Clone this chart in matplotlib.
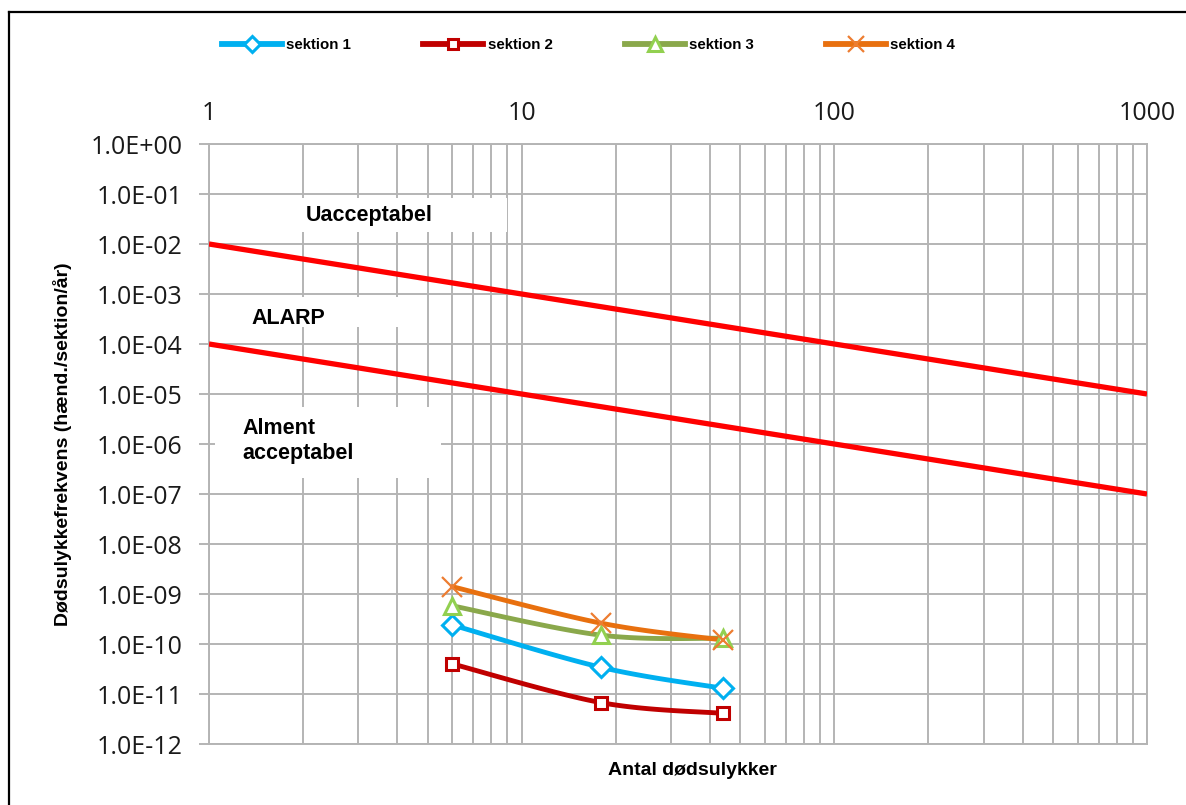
import numpy as np
import matplotlib
matplotlib.use("Agg")
import matplotlib.pyplot as plt
from matplotlib.lines import Line2D
from matplotlib.patches import Rectangle
from matplotlib.ticker import FuncFormatter, LogLocator, NullFormatter

# Number of fatalities per scenario
fatalities = [6, 18, 44]

# Fatal accident frequency per section (events/section/year)
sektion_1 = [2.4e-10, 3.4e-11, 1.3e-11]
sektion_2 = [4.0e-11, 6.7e-12, 4.1e-12]
sektion_3 = [5.8e-10, 1.5e-10, 1.3e-10]
sektion_4 = [1.4e-9, 2.6e-10, 1.2e-10]
series_names = ["sektion 1", "sektion 2", "sektion 3", "sektion 4"]

# Risk acceptance criteria (F-N lines)
criteria_n = [1, 1000]
upper_limit = [1e-2, 1e-5]
lower_limit = [1e-4, 1e-7]

x_ticks = [1, 10, 100, 1000]
y_ticks = [10.0 ** e for e in range(0, -13, -1)]

W, H = 1186, 805
fig = plt.figure(figsize=(W / 100, H / 100), dpi=100)
L, R, T, B = 209, 1147, 144, 744
ax = fig.add_axes([L / W, 1 - B / H, (R - L) / W, (B - T) / H])


def px_x(px):
    return (px - L) / (R - L)


def px_y(py):
    return (B - py) / (B - T)


ax.set_xscale("log")
ax.set_yscale("log")
ax.set_xlim(1, 1000)
ax.set_ylim(1e-12, 1)

grid_c = "#b4b4b4"
ax.set_axisbelow(True)
ax.xaxis.set_minor_locator(LogLocator(base=10, subs=np.arange(2, 10), numticks=20))
ax.xaxis.set_minor_formatter(NullFormatter())
ax.set_xticks(x_ticks)
ax.set_yticks(y_ticks)
ax.yaxis.set_minor_locator(plt.NullLocator())
ax.grid(True, which="major", color=grid_c, lw=1.4)
ax.grid(True, which="minor", axis="x", color=grid_c, lw=1.4)

tick_font = dict(family="Open Sans", size=18)
ax.xaxis.tick_top()
ax.xaxis.set_major_formatter(FuncFormatter(lambda v, p: f"{v:g}"))
ax.yaxis.set_major_formatter(FuncFormatter(lambda v, p: f"{v:.1E}"))
ax.tick_params(axis="x", which="both", length=0, pad=13, labelcolor="#1a1a1a")
ax.tick_params(axis="y", which="major", length=7, width=1.4, color=grid_c,
               pad=12, labelcolor="#1a1a1a")
for lab in ax.get_xticklabels() + ax.get_yticklabels():
    lab.set_fontfamily(tick_font["family"])
    lab.set_fontsize(tick_font["size"])
for s in ax.spines.values():
    s.set_color(grid_c)
    s.set_linewidth(1.4)

# Criteria lines
line_kw = dict(color="#ff0000", lw=3.8, solid_capstyle="butt", zorder=3)
ax.plot(criteria_n, upper_limit, **line_kw)
ax.plot(criteria_n, lower_limit, **line_kw)

# Region labels on white boxes
lab_font = dict(family="Liberation Sans", weight="bold", size=15.5, color="black")
boxes = [
    (228, 198, 507, 232),
    (228, 297, 398, 327),
    (215, 407, 441, 478),
]
for x0, y0, x1, y1 in boxes:
    ax.add_patch(Rectangle((px_x(x0), px_y(y1)), px_x(x1) - px_x(x0), px_y(y0) - px_y(y1),
                           transform=ax.transAxes, facecolor="white", edgecolor="none",
                           zorder=1))
ax.text(px_x(306), px_y(215), "Uacceptabel", transform=ax.transAxes, va="center",
        ha="left", zorder=2, **lab_font)
ax.text(px_x(251), px_y(318), "ALARP", transform=ax.transAxes, va="center",
        ha="left", zorder=2, **lab_font)
ax.text(px_x(242), px_y(441), "Alment\nacceptabel", transform=ax.transAxes, va="center",
        ha="left", zorder=2, linespacing=1.25, **lab_font)


def smooth(xs, ys, n=40):
    """Catmull-Rom curve through the points, computed in log space."""
    lx, ly = np.log10(xs), np.log10(ys)
    px = np.concatenate([[lx[0]], lx, [lx[-1]]])
    py = np.concatenate([[ly[0]], ly, [ly[-1]]])
    out_x, out_y = [], []
    t = np.linspace(0, 1, n)
    for i in range(1, len(px) - 2):
        p0, p1, p2, p3 = [np.array([px[j], py[j]]) for j in (i - 1, i, i + 1, i + 2)]
        c1 = p1 + (p2 - p0) / 6
        c2 = p2 - (p3 - p1) / 6
        pts = ((1 - t) ** 3)[:, None] * p1 + (3 * (1 - t) ** 2 * t)[:, None] * c1 \
            + (3 * (1 - t) * t ** 2)[:, None] * c2 + (t ** 3)[:, None] * p2
        out_x.extend(pts[:, 0])
        out_y.extend(pts[:, 1])
    return 10 ** np.array(out_x), 10 ** np.array(out_y)


styles = [
    dict(color="#00b0f0", marker="D", ms=10, mec="#00b0f0", mfc="white", mew=2.2),
    dict(color="#c00000", marker="s", ms=8.5, mec="#c00000", mfc="white", mew=2.2),
    dict(color="#8aa84b", marker="^", ms=12, mec="#92d050", mfc="white", mew=2.2),
    dict(color="#e8700f", marker="x", ms=14, mec="#ed7d31", mfc="none", mew=1.6),
]
all_series = [sektion_1, sektion_2, sektion_3, sektion_4]
handles = []
for name, vals, st in zip(series_names, all_series, styles):
    sx, sy = smooth(fatalities, vals)
    ax.plot(sx, sy, color=st["color"], lw=3.5, zorder=4, solid_capstyle="round")
    ax.plot(fatalities, vals, ls="none", marker=st["marker"], ms=st["ms"],
            mec=st["mec"], mfc=st["mfc"], mew=st["mew"], zorder=5)
    handles.append(Line2D([], [], color=st["color"], lw=4.2, marker=st["marker"],
                          ms=st["ms"] * 0.8, mec=st["mec"], mfc=st["mfc"],
                          mew=st["mew"], label=name))

fig.legend(handles=handles, loc="center left", bbox_to_anchor=(222 / W, 1 - 45 / H),
           ncol=4, frameon=False, borderpad=0, borderaxespad=0, numpoints=1,
           handlelength=4.0, handletextpad=0.3, columnspacing=4.8,
           prop=dict(family="Liberation Sans", weight="bold", size=10.8))

ax.set_xlabel("Antal dødsulykker", family="Liberation Sans", weight="bold", size=14)
ax.xaxis.set_label_position("bottom")
ax.xaxis.set_label_coords(px_x(692), px_y(762))
ax.set_ylabel("Dødsulykkefrekvens (hænd./sektion/år)", family="Liberation Sans",
              weight="bold", size=14)
ax.yaxis.set_label_coords(px_x(72), 0.5)

# Outer frame (top and left edges)
fig.add_artist(Line2D([9 / W, 1], [1 - 12 / H, 1 - 12 / H], transform=fig.transFigure,
                      color="black", lw=1.6))
fig.add_artist(Line2D([9 / W, 9 / W], [0, 1 - 12 / H], transform=fig.transFigure,
                      color="black", lw=1.6))

fig.savefig("out.png", dpi=100, facecolor="white")
